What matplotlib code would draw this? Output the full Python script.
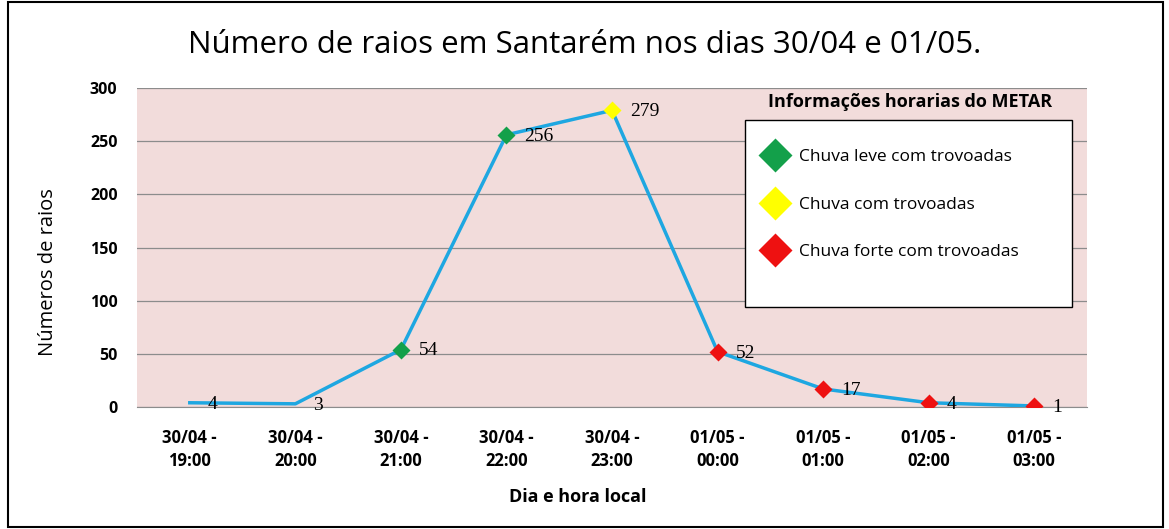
import matplotlib.pyplot as plt
from matplotlib.lines import Line2D
from matplotlib.patches import Rectangle

# data
categories = ['30/04 -\n19:00', '30/04 -\n20:00', '30/04 -\n21:00', '30/04 -\n22:00',
              '30/04 -\n23:00', '01/05 -\n00:00', '01/05 -\n01:00', '01/05 -\n02:00',
              '01/05 -\n03:00']
raios = [4, 3, 54, 256, 279, 52, 17, 4, 1]
# METAR condition per hour (None = no report marker)
metar = [None, None, 'leve', 'leve', 'normal', 'forte', 'forte', 'forte', 'forte']

metar_colors = {'leve': '#13a04a', 'normal': '#ffff00', 'forte': '#ee1111'}
metar_labels = {'leve': 'Chuva leve com trovoadas',
                'normal': 'Chuva com trovoadas',
                'forte': 'Chuva forte com trovoadas'}

font = 'Open Sans'

fig = plt.figure(figsize=(11.69, 5.29), dpi=100)
ax = fig.add_axes([0.1172, 0.2306, 0.8127, 0.603])
ax.set_facecolor('#f2dcdb')

x = list(range(len(categories)))
ax.plot(x, raios, color='#1ea7e1', lw=2.5, zorder=3)
for xi, yi, m in zip(x, raios, metar):
    if m is not None:
        ax.plot(xi, yi, marker='D', ms=9, color=metar_colors[m], mec='none', zorder=4)
    ax.annotate(str(yi), (xi, yi), xytext=(13, -1), textcoords='offset points',
                ha='left', va='center', fontsize=14, family='Liberation Serif', zorder=5)

ax.set_xlim(-0.5, len(categories) - 0.5)
ax.set_ylim(0, 300)
ax.set_yticks(range(0, 301, 50))
ax.set_xticks(x)
ax.set_xticklabels(categories, fontsize=12, fontweight='bold', family=font, linespacing=1.35)
for lbl in ax.get_yticklabels():
    lbl.set_fontsize(11.5)
    lbl.set_fontweight('bold')
    lbl.set_family(font)
ax.grid(axis='y', color='#8c8c8c', lw=0.9)
ax.set_axisbelow(True)
ax.tick_params(axis='x', length=0, pad=16)
ax.tick_params(axis='y', length=0, pad=14)
for s in ['top', 'right', 'left']:
    ax.spines[s].set_visible(False)
ax.spines['bottom'].set_color('#8c8c8c')

ax.set_xlabel('Dia e hora local', fontsize=13, fontweight='bold', family=font)
ax.xaxis.set_label_coords(0.464, -0.255)
ax.set_ylabel('Números de raios', fontsize=14.5, family=font)
ax.yaxis.set_label_coords(-0.083, 0.423)
fig.text(0.5, 0.915, 'Número de raios em Santarém nos dias 30/04 e 01/05.',
         ha='center', va='center', fontsize=22.5, family=font)

# legend box drawn by hand, legend entries placed inside without frame
ax.add_patch(Rectangle((0.64, 0.313), 0.344, 0.587, transform=ax.transAxes,
                       facecolor='white', edgecolor='black', lw=1.0, zorder=6))
handles = [Line2D([], [], marker='D', ls='none', ms=17, color=metar_colors[k], mec='none')
           for k in ['leve', 'normal', 'forte']]
leg = ax.legend(handles, [metar_labels[k] for k in ['leve', 'normal', 'forte']],
                loc='upper left', bbox_to_anchor=(0.635, 0.89), frameon=False,
                prop={'family': font, 'size': 12.5}, labelspacing=1.8,
                borderpad=1.5, handlelength=1.0, handletextpad=0.9, borderaxespad=0)
leg.set_zorder(7)
ax.text(0.814, 0.955, 'Informações horarias do METAR', transform=ax.transAxes,
        ha='center', va='center', fontsize=13, fontweight='bold', family=font)

fig.patches.append(Rectangle((0.007, 0.004), 0.988, 0.992, transform=fig.transFigure,
                             fill=False, edgecolor='black', lw=1.5))

fig.savefig('out.png', dpi=100)
